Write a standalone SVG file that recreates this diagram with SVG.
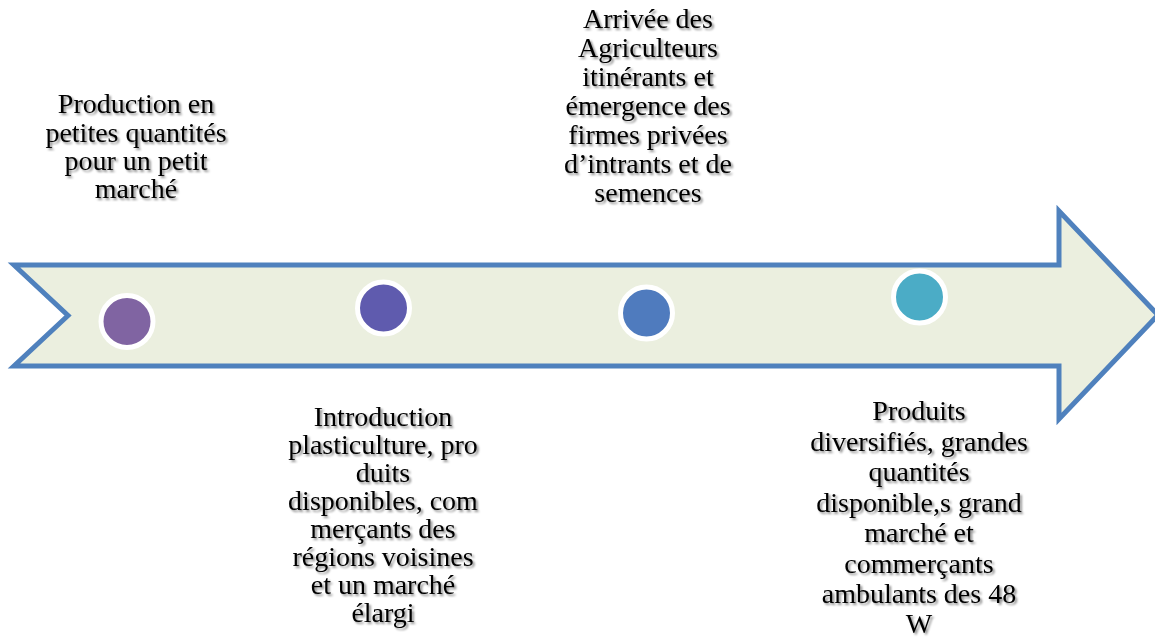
<svg xmlns="http://www.w3.org/2000/svg" width="1155" height="637" viewBox="0 0 1155 637">
<defs>
<filter id="sh" x="-10%" y="-10%" width="130%" height="130%">
<feDropShadow dx="2" dy="2" stdDeviation="1.3" flood-color="#000" flood-opacity="0.45"/>
</filter>
<style>
.t{font-family:"Liberation Serif","Times New Roman",serif;font-size:28px;fill:#000;text-anchor:middle;filter:url(#sh)}
.dot{stroke:#fff;stroke-width:5}
</style>
</defs>
<rect width="1155" height="637" fill="#fff"/>
<g id="arrow">
<path d="M14 265 L1059 265 L1059 211 L1158 315 L1059 419 L1059 366 L14 366 L68 315.5 Z" fill="#EBEFDF" stroke="#4F81BD" stroke-width="5" stroke-linejoin="miter"/>
</g>
<g id="connectors"></g>
<g id="node1">
<circle class="dot" cx="127" cy="321.5" r="26" fill="#8064A2"/>
<text class="t"><tspan x="136" y="113">Production en</tspan><tspan x="136" y="142">petites quantités</tspan><tspan x="136" y="170">pour un petit</tspan><tspan x="136" y="198">marché</tspan></text>
</g>
<g id="node2">
<circle class="dot" cx="383.5" cy="308" r="26" fill="#5F5BAE"/>
<text class="t"><tspan x="383" y="426">Introduction</tspan><tspan x="383" y="454">plasticulture, pro</tspan><tspan x="383" y="482">duits</tspan><tspan x="383" y="510">disponibles, com</tspan><tspan x="383" y="538">merçants des</tspan><tspan x="383" y="566">régions voisines</tspan><tspan x="383" y="594">et un marché</tspan><tspan x="383" y="622">élargi</tspan></text>
</g>
<g id="node3">
<circle class="dot" cx="646.5" cy="313" r="26" fill="#4F7BBE"/>
<text class="t"><tspan x="648" y="28">Arrivée des</tspan><tspan x="648" y="57">Agriculteurs</tspan><tspan x="648" y="86">itinérants et</tspan><tspan x="648" y="115">émergence des</tspan><tspan x="648" y="144">firmes privées</tspan><tspan x="648" y="173">d’intrants et de</tspan><tspan x="648" y="202">semences</tspan></text>
</g>
<g id="node4">
<circle class="dot" cx="919.5" cy="297" r="26" fill="#4BACC6"/>
<text class="t"><tspan x="919" y="420">Produits</tspan><tspan x="919" y="450.5">diversifiés, grandes</tspan><tspan x="919" y="481">quantités</tspan><tspan x="919" y="511.5">disponible,s grand</tspan><tspan x="919" y="542">marché et</tspan><tspan x="919" y="572.5">commerçants</tspan><tspan x="919" y="603">ambulants des 48</tspan><tspan x="919" y="633">W</tspan></text>
</g>
</svg>
